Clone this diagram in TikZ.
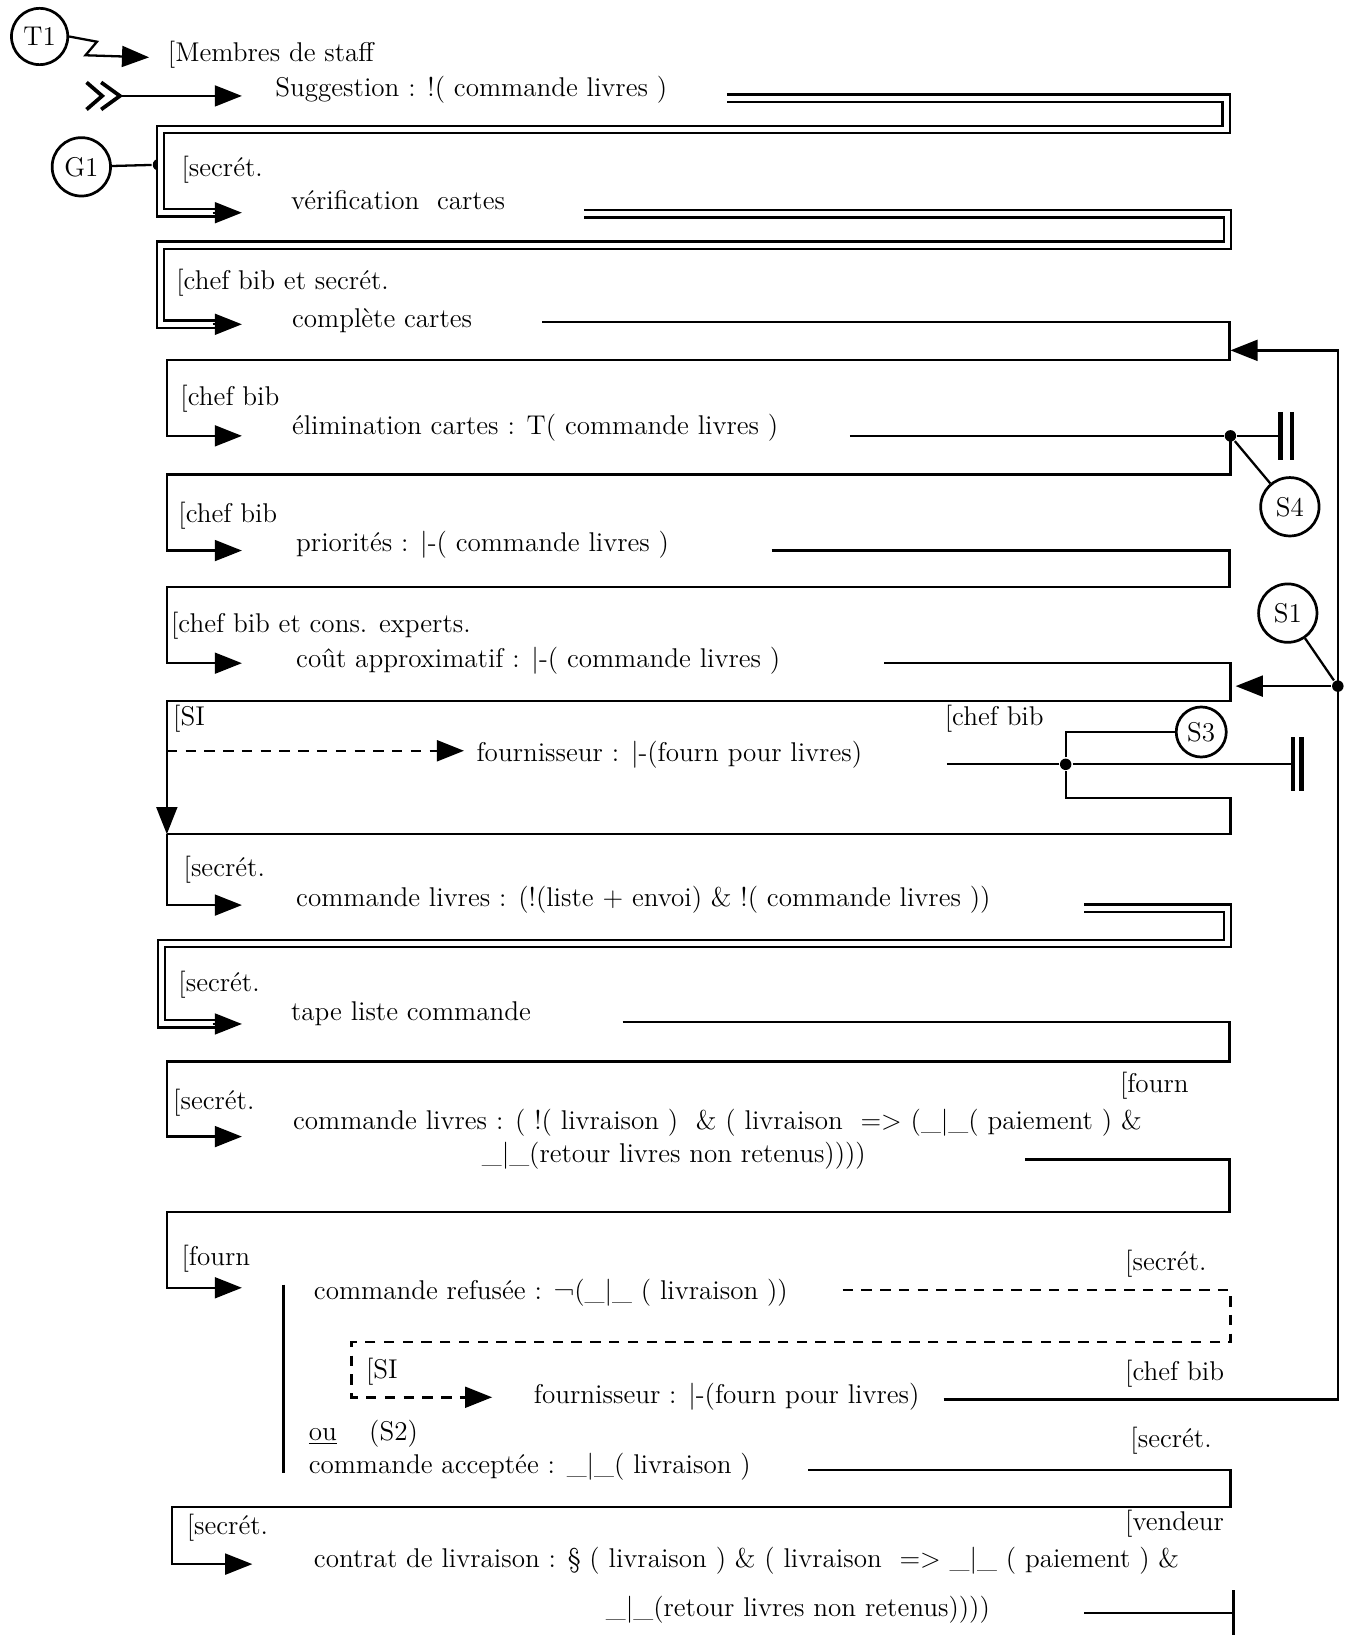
\documentclass[tikz,border=0pt]{standalone}
\usepackage{fontspec}
\usetikzlibrary{arrows.meta, calc}
\tikzset{
  every picture/.style={line width=1.1pt},
  dbl/.style={double, double distance=2.4pt, line width=1.1pt},
  arr/.style={-{Triangle[length=13pt, width=10pt]}},
  dashline/.style={dash pattern=on 5pt off 4pt, line width=1.2pt},
  txt/.style={anchor=base west, inner sep=0pt, font=\fontsize{13}{15}\selectfont},
  stn/.style={circle, draw, line width=1.3pt, minimum size=#1, inner sep=0pt, font=\fontsize{13}{15}\selectfont},
  stn/.default=28pt,
  jdot/.style={circle, fill, minimum size=5.5pt, inner sep=0pt},
  endbar/.style={line width=2.2pt},
}
\begin{document}
\begin{tikzpicture}[x=0.5pt, y=-0.5pt]
  \useasboundingbox (0,0) rectangle (1296,1568);
  % stations
  \node[stn=27pt] (T1) at (38,35) {T1};
  \node[stn] (G1) at (78,160) {G1};
  \node[stn] (S4) at (1237,486) {S4};
  \node[stn] (S1) at (1235,588) {S1};
  \node[stn=24pt] (S3) at (1152,702) {S3};
  \node[jdot] (dG) at (152,158) {};
  \node[jdot] (d4) at (1180,418) {};
  \node[jdot] (d3) at (1022,733) {};
  \node[jdot] (d1) at (1283,658) {};
  % texts
  \node[txt] (tMem) at (160,59) {[Membres de staff};
  \node[txt] (tSugg) at (263,93) {Suggestion : !( commande livres\ )};
  \node[txt] (lVerif) at (173,169) {[secrét.};
  \node[txt] (tVerif) at (278,201) {vérification\ \ cartes};
  \node[txt] (lCompl) at (168,278) {[chef bib et secrét.};
  \node[txt] (tCompl) at (279,314) {complète cartes};
  \node[txt] (lElim) at (172,389) {[chef bib};
  \node[txt] (tElim) at (279,417) {élimination cartes : T( commande livres )};
  \node[txt] (lPrio) at (170,501) {[chef bib};
  \node[txt] (tPrio) at (283,529) {priorités : |-( commande livres )};
  \node[txt] (lCout) at (163,607) {[chef bib et cons. experts.};
  \node[txt] (tCout) at (283,640) {coût approximatif : |-( commande livres )};
  \node[txt] (lSI) at (165,696) {[SI};
  \node[txt] (rSI) at (905,696) {[chef bib};
  \node[txt] (tFour) at (456,730) {fournisseur : |-(fourn pour livres)};
  \node[txt] (lCmd) at (175,841) {[secrét.};
  \node[txt] (tCmd) at (283,869) {commande livres : (!(liste + envoi) \& !( commande livres ))};
  \node[txt] (lTape) at (170,951) {[secrét.};
  \node[txt] (tTape) at (278,979) {tape liste commande};
  \node[txt] (lCmdb) at (165,1064) {[secrét.};
  \node[txt] (rCmdb) at (1073,1048) {[fourn};
  \node[txt] (tCmdb) at (280,1083) {commande livres : ( !( livraison )\ \ \& ( livraison\ \ => (\_|\_( paiement ) \&};
  \node[txt] (uCmdb) at (461,1115) {\_|\_(retour livres non retenus))))};
  \node[txt] (lFourn) at (173,1214) {[fourn};
  \node[txt] (rRefus) at (1078,1218) {[secrét.};
  \node[txt] (tRefus) at (300,1246) {commande refusée : ¬(\_|\_ ( livraison ))};
  \node[txt] (lSIb) at (350,1322) {[SI};
  \node[txt] (rFourb) at (1078,1324) {[chef bib};
  \node[txt] (tFourb) at (511,1346) {fournisseur : |-(fourn pour livres)};
  \node[txt] (tOu) at (295,1381) {\underline{ou}};
  \node[txt] (tS2) at (353,1381) {(S2)};
  \node[txt] (rAccept) at (1083,1388) {[secrét.};
  \node[txt] (tAccept) at (295,1413) {commande acceptée : \_|\_( livraison )};
  \node[txt] (lContrat) at (178,1472) {[secrét.};
  \node[txt] (rContrat) at (1078,1468) {[vendeur};
  \node[txt] (tContrat) at (300,1503) {contrat de livraison : § ( livraison ) \& ( livraison\ \ => \_|\_ ( paiement ) \&};
  \node[txt] (uContrat) at (580,1550) {\_|\_(retour livres non retenus))))};
  % connector ends
  \coordinate (src) at (115,92);
  \coordinate (iMem) at (143,55);
  \coordinate (iSugg) at (232,92);
  \coordinate (oSugg) at (697,94);
  \coordinate (iVerif) at (232,204);
  \coordinate (oVerif) at (560,205);
  \coordinate (iCompl) at (232,311);
  \coordinate (oCompl) at (520,309);
  \coordinate (iElim) at (232,418);
  \coordinate (oElim) at (815,418);
  \coordinate (b4) at (1228,418);
  \coordinate (iPrio) at (232,528);
  \coordinate (oPrio) at (740,528);
  \coordinate (iCout) at (232,636);
  \coordinate (oCout) at (848,636);
  \coordinate (iSI) at (160,800);
  \coordinate (oSI) at (160,720);
  \coordinate (iFour) at (445,720);
  \coordinate (oFour) at (908,733);
  \coordinate (b3) at (1240,733);
  \coordinate (iCmd) at (232,868);
  \coordinate (oCmd) at (1040,871);
  \coordinate (iTape) at (232,982);
  \coordinate (oTape) at (597,980);
  \coordinate (iCmdb) at (232,1090);
  \coordinate (oCmdb) at (983,1112);
  \coordinate (iFourn) at (232,1235);
  \coordinate (oRefus) at (808,1237);
  \coordinate (iFourb) at (472,1340);
  \coordinate (oFourb) at (905,1342);
  \coordinate (iCoutR) at (1185,658);
  \coordinate (iComplR) at (1180,336);
  \coordinate (oAccept) at (775,1410);
  \coordinate (iContrat) at (242,1500);
  \coordinate (oContrat) at (1040,1547);
  \coordinate (eContrat) at (1183,1547);
  % start
  \draw[arr] (T1.east) -- (93,40) -- (82,53) -- (iMem);
  \draw[line width=1.8pt] ($(src)+(-32,-13)$) -- ($(src)+(-17,0)$) -- ($(src)+(-32,13)$)
    ($(src)+(-18,-13)$) -- (src) -- ($(src)+(-18,13)$);
  \draw[arr] (src) -- (iSugg);
  % double links
  \draw[dbl] (oSugg) -| (1176,124) -- (154,124) |- ($(iVerif)+(-18,0)$);
  \draw[arr] ($(iVerif)+(-28,0)$) -- (iVerif);
  \draw[dbl] (oVerif) -| (1177,235) -- (154,235) |- ($(iCompl)+(-18,0)$);
  \draw[arr] ($(iCompl)+(-28,0)$) -- (iCompl);
  \draw[dbl] (oCmd) -| (1177,905) -- (155,905) |- ($(iTape)+(-18,0)$);
  \draw[arr] ($(iTape)+(-28,0)$) -- (iTape);
  \draw (G1) -- (dG);
  % single links
  \foreach \a/\b/\c in {oCompl/345/iElim, oPrio/563/iCout, oTape/1018/iCmdb, oCmdb/1162/iFourn}
    \draw[arr] (\a) -| (1179,\b) -- (160,\b) |- (\c);
  \draw (oElim) -- (d4) -- (b4);
  \draw[endbar] ($(b4)+(0,-23)$) -- ($(b4)+(0,23)$) ($(b4)+(11,-23)$) -- ($(b4)+(11,23)$);
  \draw (d4) -- (S4);
  \draw[arr] (d4.center) -- (1180,455) -- (160,455) |- (iPrio);
  % SI block
  \draw[arr] (oCout) -| (1180,672) -- (160,672) -- (iSI);
  \draw[arr] (iSI) |- (iCmd);
  \draw[dashline, arr] (oSI) -- (iFour);
  \draw (oFour) -- (d3) -- (b3);
  \draw[endbar] ($(b3)+(0,-26)$) -- ($(b3)+(0,26)$) ($(b3)+(8,-26)$) -- ($(b3)+(8,26)$);
  \draw (d3) |- (S3);
  \draw (d3) -- (1022,765) -- (1180,765) -- (1180,800) -- (iSI);
  % fourn block
  \draw (272,1232) -- (272,1413);
  \draw[dashline, arr] (oRefus) -| (1180,1287) -- (337,1287) |- (iFourb);
  \draw[arr] (oFourb) -| (1283,336) -- (iComplR);
  \draw[arr] (d1) -- (iCoutR);
  \draw (S1) -- (d1);
  \draw[arr] (oAccept) -| (1180,1445) -- (165,1445) |- (iContrat);
  \draw (oContrat) -- (eContrat);
  \draw[line width=1.6pt] ($(eContrat)+(0,-22)$) -- ($(eContrat)+(0,21)$);
\end{tikzpicture}
\end{document}
